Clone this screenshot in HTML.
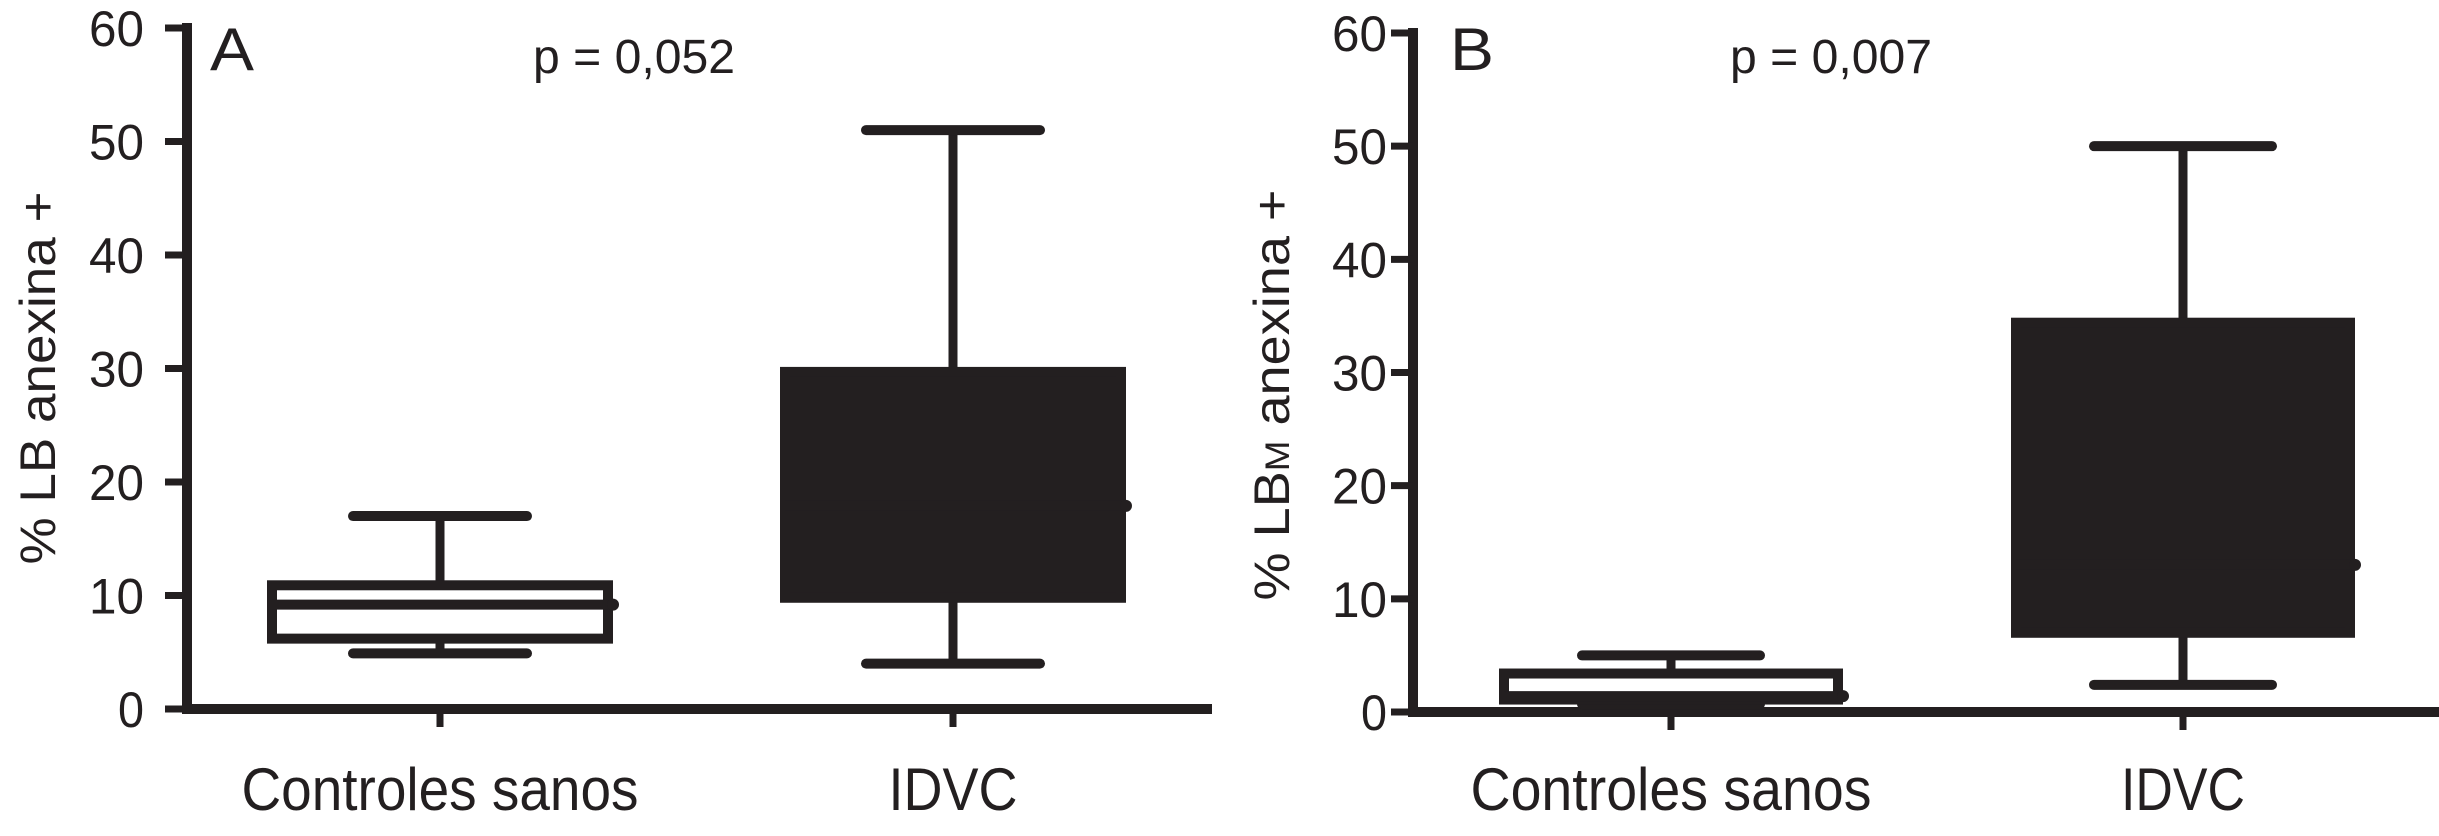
<!DOCTYPE html>
<html><head><meta charset="utf-8">
<style>
html,body{margin:0;padding:0;background:#fff;}
svg{display:block;}
text{font-family:"Liberation Sans",sans-serif;fill:#231f20;}
</style></head>
<body>
<svg id="chart" width="2439" height="836" viewBox="0 0 2439 836" xmlns="http://www.w3.org/2000/svg"></svg>
<script>
const categories = ["Controles sanos", "IDVC"];
const yTicks = [0, 10, 20, 30, 40, 50, 60];
const panelLabels = ["A", "B"];
const pValues = ["p = 0,052", "p = 0,007"];
// [whiskerLow, Q1, median, Q3, whiskerHigh, dot]
const panelA_control = [4.9, 6.2, 9.2, 10.9, 17, 9.2];
const panelA_idvc = [4, 9.8, 17.9, 29.7, 51, 17.9];
const panelB_control = [0.7, 1.1, 1.4, 3.4, 5.0, 1.4];
const panelB_idvc = [2.4, 7.0, 13, 34.4, 50, 13];

const NS = "http://www.w3.org/2000/svg";
const svg = document.getElementById("chart");
const C = "#231f20";
function mk(tag, attrs, parent) {
  const e = document.createElementNS(NS, tag);
  for (const k in attrs) e.setAttribute(k, attrs[k]);
  (parent || svg).appendChild(e);
  return e;
}

const panels = [
  {axisX:187, y0:709, y60:28, xEnd:1212, cats:[440,953], boxHalf:173, capHalf:87,
   data:[panelA_control, panelA_idvc], fills:["#fff", C], title:"% LB anexina +", titleX:38, titleY:378, titleLen:373,
   labX:210, labY:70, pX:533, pLen:202, catLens:[397,129], tickRight:144},
  {axisX:1413, y0:712, y60:33, xEnd:2439, cats:[1671,2183], boxHalf:172, capHalf:89,
   data:[panelB_control, panelB_idvc], fills:["#fff", C], title:"% LBM anexina +", titleX:1272, titleY:395, titleLen:411,
   labX:1450, labY:70, pX:1730, pLen:202, catLens:[401,124], tickRight:1387}
];

panels.forEach((p, pi) => {
  const g = mk("g", {});
  
  
  const yS = v => p.y0 - (v / 60) * (p.y0 - p.y60);

  const ya = mk("line", {x1:p.axisX, y1:p.y60 - 5, x2:p.axisX, y2:p.y0 + 5, stroke:C, "stroke-width":10}, g);
  
  
  yTicks.forEach(t => {
    const tk = mk("line", {x1:p.axisX - 22, y1:yS(t), x2:p.axisX, y2:yS(t), stroke:C, "stroke-width":7}, g);
    
    
    const tl = mk("text", {x:p.tickRight, y:yS(t) + 18, "text-anchor":"end", "font-size":50, textLength: t === 0 ? 26 : 55, lengthAdjust:"spacingAndGlyphs"}, g);
    tl.textContent = t;
    
    
  });
  const xa = mk("line", {x1:p.axisX - 5, y1:p.y0, x2:p.xEnd, y2:p.y0, stroke:C, "stroke-width":10}, g);
  
  

  categories.forEach((c, ci) => {
    const cx = p.cats[ci];
    const tk = mk("line", {x1:cx, y1:p.y0, x2:cx, y2:p.y0 + 18, stroke:C, "stroke-width":7}, g);
    
    
    const cl = mk("text", {x:cx, y:810, "text-anchor":"middle", "font-size":60, textLength:p.catLens[ci], lengthAdjust:"spacingAndGlyphs"}, g);
    cl.textContent = c;
    
    

    const d = p.data[ci];
    const bg = mk("g", {}, g);
    
    
    mk("line", {x1:cx, y1:yS(d[4]), x2:cx, y2:yS(d[3]), stroke:C, "stroke-width":9}, bg);
    mk("line", {x1:cx, y1:yS(d[1]), x2:cx, y2:yS(d[0]), stroke:C, "stroke-width":9}, bg);
    const cap1 = mk("line", {x1:cx - p.capHalf, y1:yS(d[4]), x2:cx + p.capHalf, y2:yS(d[4]), stroke:C, "stroke-width":10, "stroke-linecap":"round"}, bg);
    
    
    const cap2 = mk("line", {x1:cx - p.capHalf, y1:yS(d[0]), x2:cx + p.capHalf, y2:yS(d[0]), stroke:C, "stroke-width":10, "stroke-linecap":"round"}, bg);
    
    
    const r = mk("rect", {x:cx - p.boxHalf + 5, y:yS(d[3]), width:2 * p.boxHalf - 10, height:yS(d[1]) - yS(d[3]), fill:p.fills[ci], stroke:C, "stroke-width":10}, bg);
    
    
    const m = mk("line", {x1:cx - p.boxHalf + 5, y1:yS(d[2]), x2:cx + p.boxHalf - 5, y2:yS(d[2]), stroke:C, "stroke-width":10}, bg);
    
    
    const dot = mk("circle", {cx:cx + p.boxHalf, cy:yS(d[5]), r:6, fill:C}, bg);
    
    
  });

  const lab = mk("text", {x:p.labX, y:p.labY, "font-size":60, textLength:44, lengthAdjust:"spacingAndGlyphs"}, g);
  lab.textContent = panelLabels[pi];
  
  
  const pv = mk("text", {x:p.pX, y:73, "font-size":48, textLength:p.pLen, lengthAdjust:"spacingAndGlyphs"}, g);
  pv.textContent = pValues[pi];
  
  

  const yt = mk("text", {x:0, y:0, "text-anchor":"middle", "font-size":50, transform:`translate(${p.titleX + 17},${p.titleY}) rotate(-90)`, textLength:p.titleLen, lengthAdjust:"spacingAndGlyphs"}, g);
  if (pi === 0) {
    yt.textContent = p.title;
  } else {
    const a = mk("tspan", {}, yt); a.textContent = "% LB";
    const b = mk("tspan", {"font-size":34}, yt); b.textContent = "M";
    const c2 = mk("tspan", {}, yt); c2.textContent = " anexina +";
  }
  
  
});
</script>
</body></html>
